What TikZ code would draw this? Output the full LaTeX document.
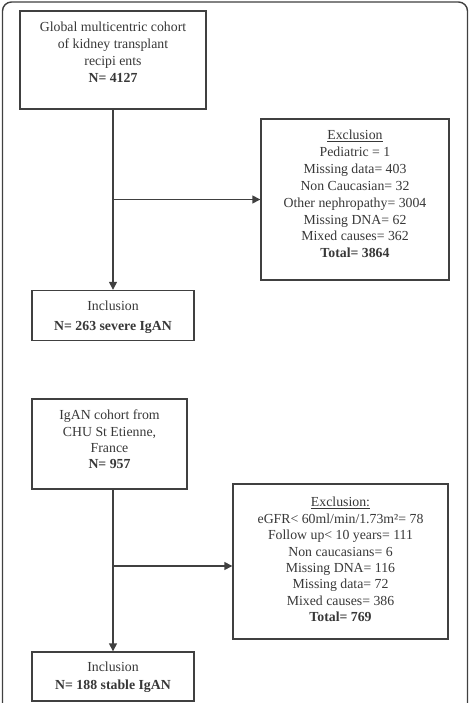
\documentclass[tikz,border=0pt]{standalone}
\usepackage{fontspec}
\setmainfont{Liberation Serif}
\usetikzlibrary{arrows.meta}
\definecolor{ln}{HTML}{404040}
\definecolor{tx}{HTML}{383838}
\begin{document}
\begin{tikzpicture}[x=1pt,y=-1pt,
  box/.style={draw=ln,line width=1.4pt,inner sep=0pt,fill=white},
  txt/.style={align=center,inner sep=0pt,text=tx},
  conn/.style={draw=ln,line width=1.4pt},
  arr/.style={conn,-{Triangle[length=8pt,width=8pt]}},
  fs/.style={font=\fontsize{13.8}{#1}\selectfont}]
\useasboundingbox (0,0) rectangle (469,703);
\fill[white] (0,0) rectangle (469,703);
% outer frame
\draw[conn,rounded corners=9] (2.5,715) -- (2.5,2) -- (467.5,2) -- (467.5,715);
% boxes
\node[box,minimum width=186,minimum height=98] (box1) at (113,60) {};
\node[box,minimum width=188,minimum height=161] (excl1) at (355,199.5) {};
\node[box,minimum width=162,minimum height=50] (incl1) at (113,315.5) {};
\node[box,minimum width=155,minimum height=90] (box3) at (109.5,444) {};
\node[box,minimum width=215,minimum height=155] (excl2) at (340.5,561.5) {};
\node[box,minimum width=162,minimum height=49] (incl2) at (113,676.5) {};
% texts
\node[txt,fs=17] (t1) at (113,52.5) {Global multicentric cohort\\of kidney transplant\\recipi ents\\\textbf{N= 4127}};
\node[txt,fs=16.86] (t2) at (355,194) {\underline{Exclusion}\\Pediatric = 1\\Missing data= 403\\Non Caucasian= 32\\Other nephropathy= 3004\\Missing DNA= 62\\Mixed causes= 362\\\textbf{Total= 3864}};
\node[txt,fs=20] (t3) at (113,317) {Inclusion\\\textbf{N= 263 severe IgAN}};
\node[txt,fs=16.4] (t4) at (109.5,439.5) {IgAN cohort from\\CHU St Etienne,\\France\\\textbf{N= 957}};
\node[txt,fs=16.4] (t5) at (340.5,559.5) {\underline{Exclusion:}\\eGFR< 60ml/min/1.73m²= 78\\Follow up< 10 years= 111\\Non caucasians= 6\\Missing DNA= 116\\Missing data= 72\\Mixed causes= 386\\\textbf{Total= 769}};
\node[txt,fs=18] (t6) at (113,677) {Inclusion\\\textbf{N= 188 stable IgAN}};
% connectors
\coordinate (j1) at (113,199.5);
\coordinate (j2) at (113,566);
\draw[arr] (box1.south) -- (incl1.north);
\draw[arr] (j1) -- (excl1.west);
\draw[arr] (incl2.north |- box3.south) -- (incl2.north);
\draw[arr] (j2) -- (excl2.west |- j2);
\end{tikzpicture}
\end{document}
